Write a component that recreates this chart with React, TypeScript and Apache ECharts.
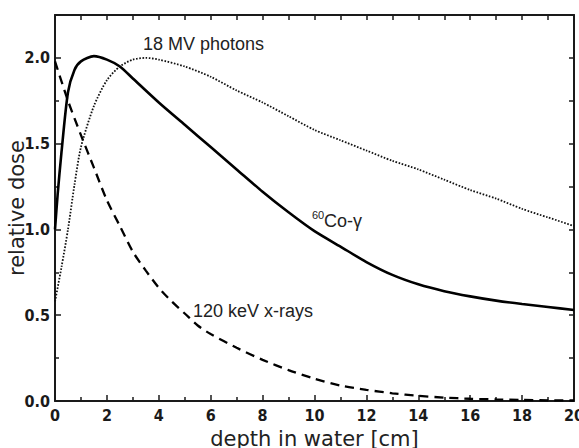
import React, { useEffect, useRef } from "react";
import * as echarts from "echarts";

// 60Co gamma (solid)
const coDepth = [0, 0.1, 0.25, 0.5, 0.75, 1, 1.5, 2, 2.5, 3, 4, 5, 6, 7, 8, 9, 10, 11, 12, 13, 14, 15, 16, 17, 18, 19, 20];
const coDose = [1.0, 1.2, 1.45, 1.8, 1.93, 1.98, 2.01, 1.99, 1.95, 1.88, 1.74, 1.61, 1.48, 1.35, 1.22, 1.1, 0.99, 0.9, 0.81, 0.735, 0.68, 0.64, 0.61, 0.585, 0.565, 0.548, 0.53];

// 18 MV photons (dotted)
const mvDepth = [0, 0.25, 0.5, 0.75, 1, 1.5, 2, 2.5, 3, 3.5, 4, 5, 6, 7, 8, 9, 10, 11, 12, 13, 14, 15, 16, 17, 18, 19, 20];
const mvDose = [0.58, 0.78, 1.0, 1.26, 1.48, 1.72, 1.87, 1.95, 1.99, 2.0, 1.99, 1.95, 1.89, 1.81, 1.74, 1.66, 1.58, 1.52, 1.46, 1.4, 1.35, 1.29, 1.23, 1.18, 1.12, 1.07, 1.02];

// 120 keV x-rays (dashed)
const kvDepth = [0, 0.5, 1, 1.5, 2, 2.5, 3, 3.5, 4, 4.5, 5, 5.5, 6, 7, 8, 9, 10, 11, 12, 13, 14, 15, 16, 17, 18, 19, 20];
const kvDose = [1.98, 1.75, 1.55, 1.36, 1.17, 1.02, 0.87, 0.76, 0.66, 0.58, 0.51, 0.44, 0.39, 0.31, 0.24, 0.18, 0.13, 0.09, 0.065, 0.045, 0.03, 0.02, 0.013, 0.009, 0.006, 0.004, 0.003];

const xTicks = { min: 0, max: 20, interval: 2 };
const yTicks = { min: 0, max: 2.25, interval: 0.5 };

const zip = (xs: number[], ys: number[]) => xs.map((x, i) => [x, ys[i]]);

const NAME_FONT = "DejaVu Sans, sans-serif";
const TICK_FONT = "'Liberation Sans Narrow', 'DejaVu Sans Condensed', 'Liberation Sans', sans-serif";
const NOTE_FONT = "'Liberation Sans', Arial, sans-serif";
const INK = "#1a1a1a";

export default function App() {
  const ref = useRef<HTMLDivElement>(null);
  useEffect(() => {
    if (!ref.current) return;
    const chart = echarts.init(ref.current, undefined, { renderer: "svg" });
    const axisLine = { show: true, onZero: false, lineStyle: { color: INK, width: 2 } };
    chart.setOption({
      animation: false,
      backgroundColor: "#fff",
      grid: { left: 55, right: 5, top: 15, bottom: 47, containLabel: false, outerBoundsMode: "none" },
      xAxis: [
        {
          type: "value",
          min: xTicks.min,
          max: xTicks.max,
          interval: xTicks.interval,
          position: "bottom",
          axisLine,
          axisTick: { inside: true, length: 6, lineStyle: { color: INK, width: 1.5 } },
          minorTick: { show: true, splitNumber: 2, length: 4, lineStyle: { color: INK, width: 1.5 } },
          splitLine: { show: false },
          axisLabel: { color: INK, fontFamily: TICK_FONT, fontWeight: "bold", fontSize: 16, margin: 6 },
          name: "depth in water [cm]",
          nameLocation: "middle",
          nameGap: 27,
          nameMoveOverlap: false,
          nameTextStyle: { color: "#222", fontFamily: NAME_FONT, fontSize: 21 },
        },
        {
          type: "value",
          min: xTicks.min,
          max: xTicks.max,
          interval: 1,
          position: "top",
          axisLine,
          axisTick: { inside: true, length: 5, lineStyle: { color: INK, width: 1.5 } },
          splitLine: { show: false },
          axisLabel: { show: false },
        },
      ],
      yAxis: [
        {
          type: "value",
          min: yTicks.min,
          max: yTicks.max,
          interval: yTicks.interval,
          position: "left",
          axisLine,
          axisTick: { inside: true, length: 6, lineStyle: { color: INK, width: 1.5 } },
          minorTick: { show: true, splitNumber: 2, length: 4, lineStyle: { color: INK, width: 1.5 } },
          splitLine: { show: false },
          axisLabel: {
            color: INK,
            fontFamily: TICK_FONT,
            fontWeight: "bold",
            fontSize: 16,
            margin: 5,
            formatter: (v: number) => (v > 2.2 ? "" : v.toFixed(1)),
          },
          name: "relative dose",
          nameLocation: "middle",
          nameGap: 28,
          nameMoveOverlap: false,
          nameTextStyle: { color: "#222", fontFamily: NAME_FONT, fontSize: 21 },
        },
        {
          type: "value",
          min: yTicks.min,
          max: yTicks.max,
          interval: 0.25,
          position: "right",
          axisLine,
          axisTick: { inside: true, length: 5, lineStyle: { color: INK, width: 1.5 } },
          splitLine: { show: false },
          axisLabel: { show: false },
        },
      ],
      series: [
        {
          name: "60Co-γ",
          type: "line",
          data: zip(coDepth, coDose),
          showSymbol: false,
          smooth: 0.25,
          lineStyle: { color: "#000", width: 2.6, type: "solid" },
        },
        {
          name: "18 MV photons",
          type: "line",
          data: zip(mvDepth, mvDose),
          showSymbol: false,
          smooth: 0.25,
          lineStyle: { color: "#111", width: 1.8, type: [1.6, 1.6] },
        },
        {
          name: "120 keV x-rays",
          type: "line",
          data: zip(kvDepth, kvDose),
          showSymbol: false,
          smooth: 0.25,
          lineStyle: { color: "#000", width: 2.3, type: [9, 6] },
        },
      ],
      graphic: [
        {
          type: "text",
          x: 143,
          y: 43.5,
          style: { text: "18 MV photons", fill: "#222", font: `18px ${NOTE_FONT}`, verticalAlign: "middle" },
        },
        {
          type: "text",
          x: 193,
          y: 311,
          style: { text: "120 keV x-rays", fill: "#222", font: `18px ${NOTE_FONT}`, verticalAlign: "middle" },
        },
        {
          type: "text",
          x: 312,
          y: 214.5,
          style: { text: "60", fill: "#222", font: `11px ${NOTE_FONT}`, verticalAlign: "middle" },
        },
        {
          type: "text",
          x: 324,
          y: 221,
          style: { text: "Co-γ", fill: "#222", font: `18px ${NOTE_FONT}`, verticalAlign: "middle" },
        },
      ],
    });
    return () => chart.dispose();
  }, []);
  return <div ref={ref} style={{ width: 579, height: 448, position: "absolute", left: 0, top: 0 }} />;
}
